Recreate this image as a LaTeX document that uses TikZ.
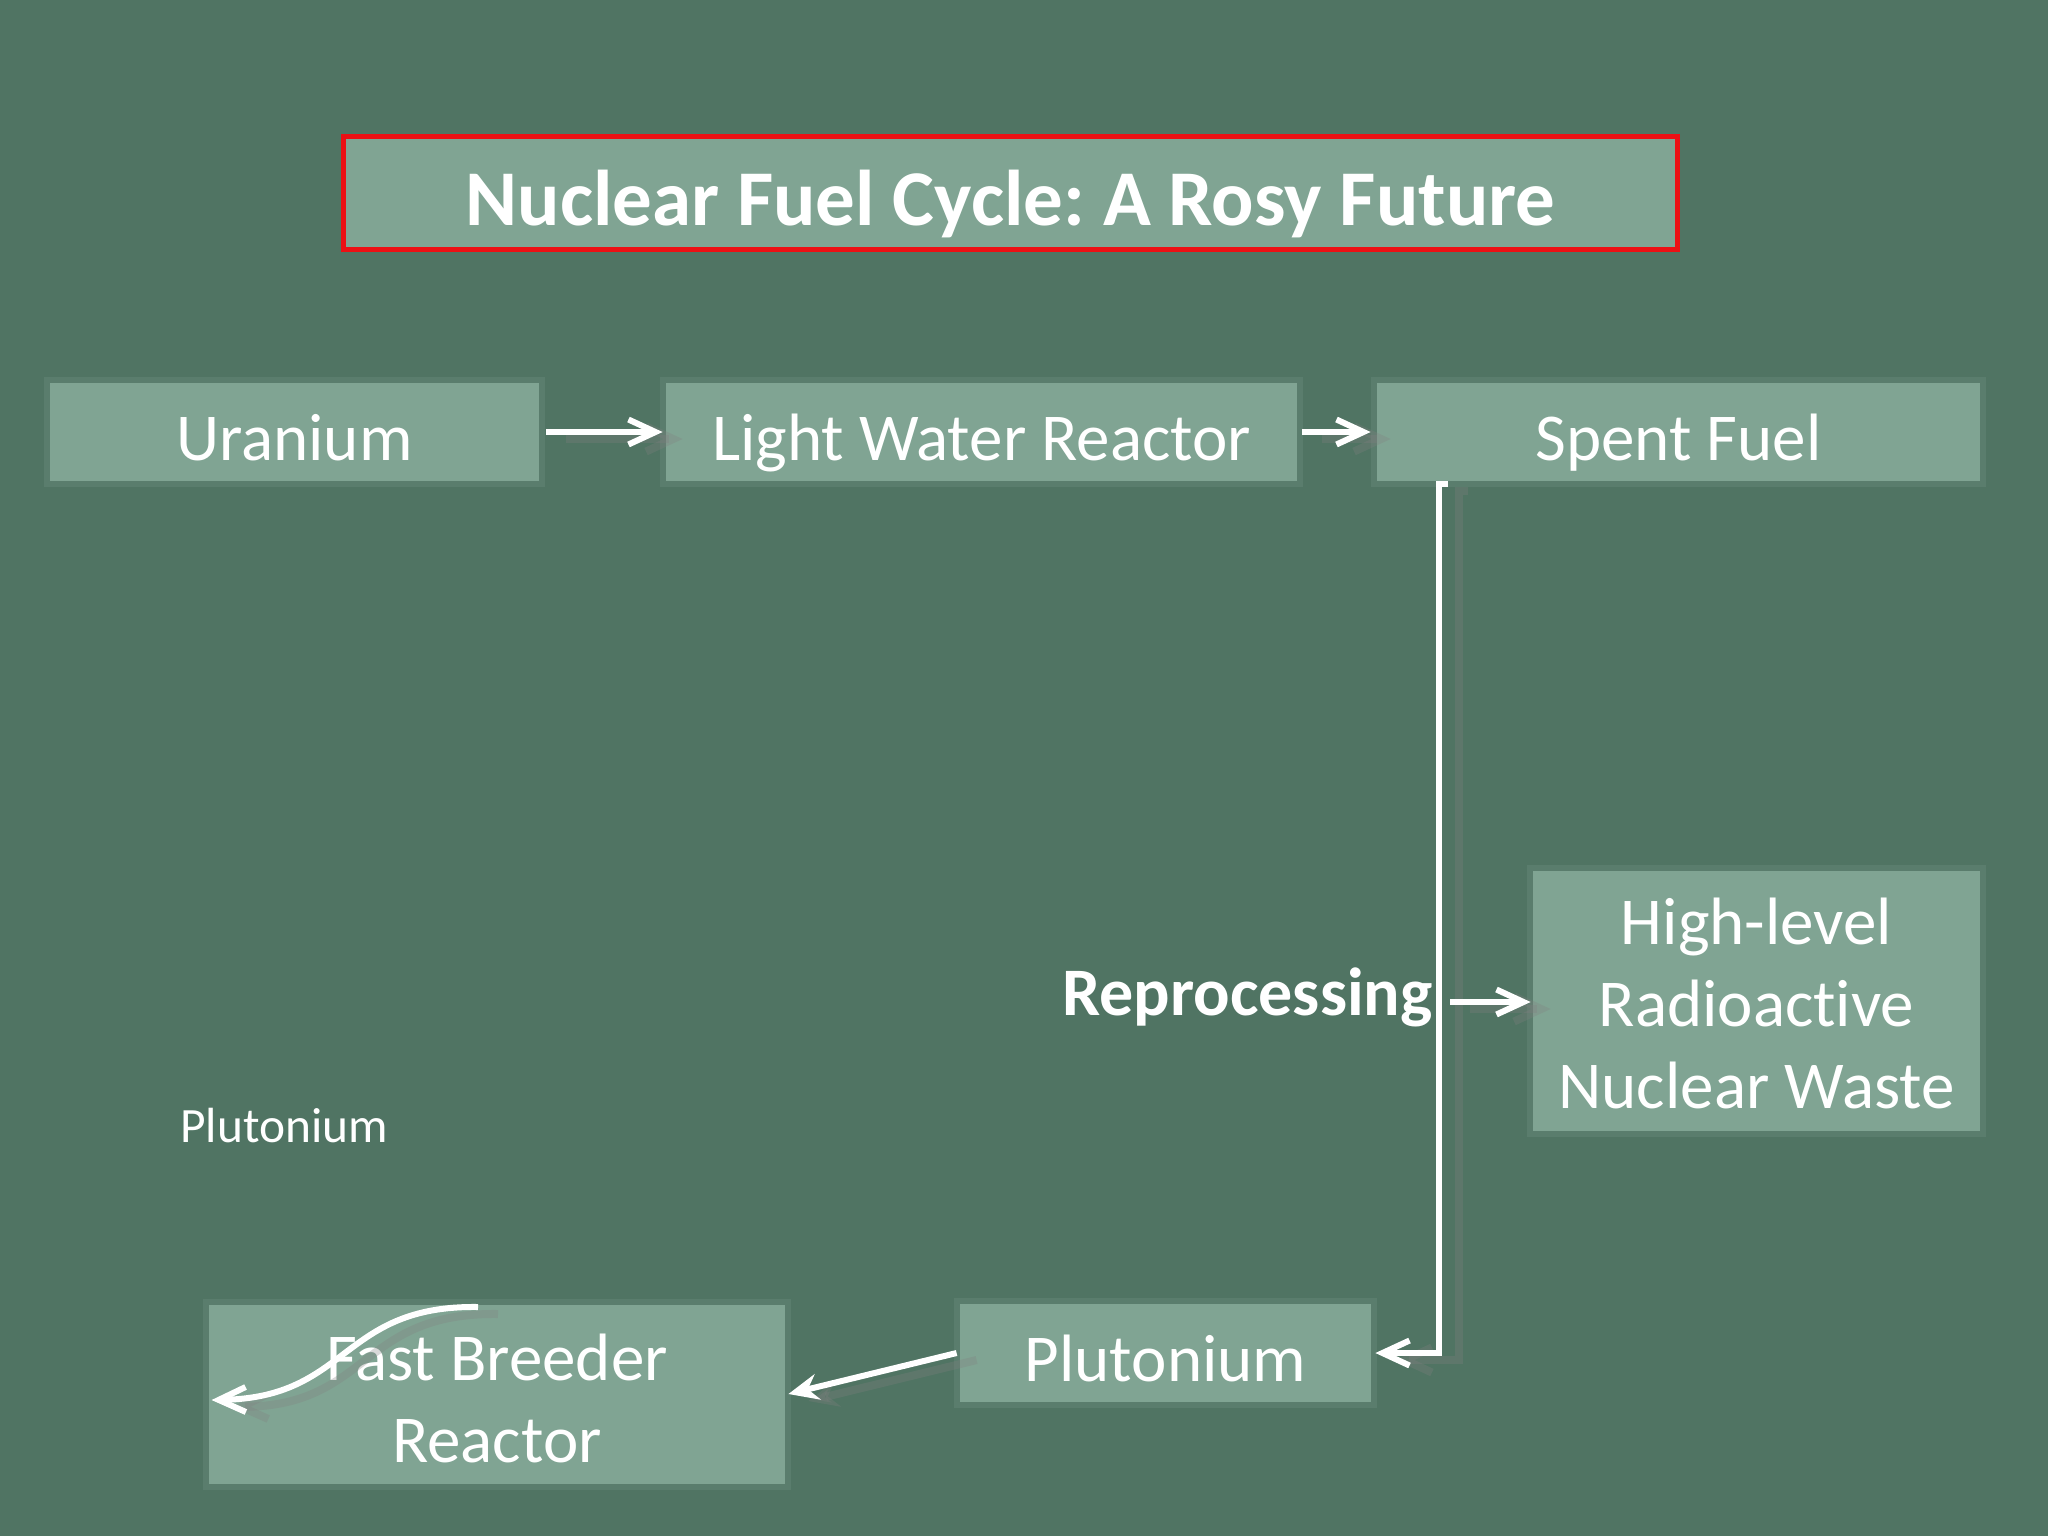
\documentclass[tikz,border=0pt]{standalone}
\usepackage{fontspec}
\setmainfont{Carlito}[Ligatures=NoCommon]
\usetikzlibrary{arrows.meta,calc}
\frenchspacing
\definecolor{bgc}{RGB}{80,116,99}
\definecolor{boxc}{RGB}{128,164,147}
\definecolor{haloc}{RGB}{90,125,109}
\definecolor{titlered}{RGB}{236,16,20}
\tikzset{
  box/.style={fill=boxc, preaction={draw=haloc, line width=6pt}, text=white,
    font=\fontsize{33.5}{41}\selectfont, inner sep=0pt, text height=28pt,
    text depth=0pt, align=center},
  titlebox/.style={fill=boxc, draw=titlered, line width=2.5pt, text=white,
    font=\bfseries\fontsize{39.5}{48}\selectfont, inner sep=0pt,
    text height=32pt, text depth=0pt},
  arr/.style={draw=white, line width=3pt, line join=miter,
    -{Straight Barb[length=13.5pt,width=12.5pt]}},
  arrs/.style={draw=white, line width=3pt,
    -{Stealth[length=15pt,width=13pt,inset=5pt]}},
  shad/.style={draw=gray, opacity=0.3, line width=4pt, line join=miter,
    -{Straight Barb[length=13.5pt,width=12.5pt]}},
  shads/.style={draw=gray, opacity=0.3, line width=4pt,
    -{Stealth[length=15pt,width=13pt,inset=5pt]}},
}
\begin{document}
\begin{tikzpicture}[x=0.5pt,y=-0.5pt]
\fill[bgc] (0,0) rectangle (2048,1536);
\useasboundingbox (0,0) rectangle (2048,1536);

\node[titlebox, minimum width=667pt, minimum height=56.25pt] (title) at (1010.5,193) {Nuclear Fuel Cycle: A Rosy Future};

\node[box, minimum width=244.5pt, minimum height=49pt] (u) at (294.5,432) {Uranium};
\node[box, minimum width=315.5pt, minimum height=49pt] (lwr) at (981.5,432) {Light Water Reactor};
\node[box, minimum width=301.5pt, minimum height=49pt] (sf) at (1678.5,432) {Spent Fuel};
\node[box, minimum width=223.5pt, minimum height=130pt, text height=107pt] (hlw) at (1756.5,1001) {High-level\\Radioactive\\Nuclear Waste};
\node[box, minimum width=205.5pt, minimum height=49pt] (plu) at (1165.5,1353) {Plutonium};
\node[box, minimum width=288pt, minimum height=89.5pt, text height=68.7pt] (fbr) at (497,1394) {Fast Breeder\\Reactor};

\node[anchor=base east, inner sep=0pt, text=white, font=\bfseries\fontsize{34}{41}\selectfont] (rep) at (1433,1015) {Reprocessing};
\node[anchor=base west, inner sep=0pt, text=white, font=\fontsize{24.7}{30}\selectfont] (plab) at (180,1142) {Plutonium};

\coordinate (sfa) at (1448,484);
\coordinate (sfb) at (1439,484);
\coordinate (rp) at (1450,1002);
\coordinate (cs) at (478,1307);

% shadows
\begin{scope}[transform canvas={shift={(20,7)}}]
\draw[shad] ([xshift=3.5pt]u.east) -- ([xshift=-1.5pt]lwr.west);
\draw[shad] ([xshift=2.5pt]lwr.east) -- ([xshift=-3pt]sf.west);
\draw[shad] (sfa) -- (sfb) |- ([xshift=2pt]plu.east);
\draw[shad] (rp) -- ([xshift=-1pt]rp -| hlw.west);
\draw[shads] ([xshift=-1.5pt]plu.west) -- ([xshift=1.5pt]fbr.east);
\draw[shad] (cs) .. controls (340,1305) and (350,1398) .. ([xshift=1.5pt,yshift=-3pt]fbr.west);
\end{scope}

% connectors
\draw[arr] ([xshift=3.5pt]u.east) -- ([xshift=-1.5pt]lwr.west);
\draw[arr] ([xshift=2.5pt]lwr.east) -- ([xshift=-3pt]sf.west);
\draw[arr] (sfa) -- (sfb) |- ([xshift=2pt]plu.east);
\draw[arr] (rp) -- ([xshift=-1pt]rp -| hlw.west);
\draw[arrs] ([xshift=-1.5pt]plu.west) -- ([xshift=1.5pt]fbr.east);
\draw[arr] (cs) .. controls (340,1305) and (350,1398) .. ([xshift=1.5pt,yshift=-3pt]fbr.west);
\end{tikzpicture}
\end{document}
